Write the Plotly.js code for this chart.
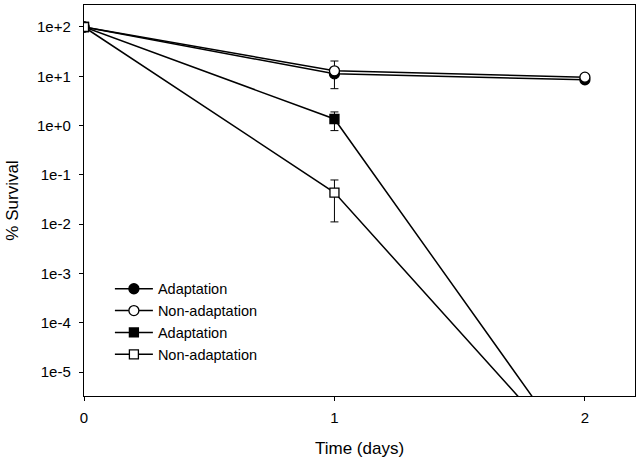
<!DOCTYPE html>
<html>
<head>
<meta charset="utf-8">
<script src="https://cdn.plot.ly/plotly-3.0.1.min.js"></script>
<style>html,body{margin:0;padding:0;background:#fff;}#chart{width:636px;height:459px;}</style>
</head>
<body>
<div id="chart"></div>
<script>
// Data
const days = [0, 1, 2];
const adaptCircle = [100, 11.2, 8.5];
const adaptCircleErrUp = [0, 0, 0];
const adaptCircleErrDown = [0, 5.6, 0];
const nonAdaptCircle = [100, 12.9, 9.6];
const nonAdaptCircleErrUp = [0, 7.5, 0];
const nonAdaptCircleErrDown = [0, 0, 0];
const adaptSquare = [100, 1.36, 1e-7];
const adaptSquareErrUp = [0, 0.53, 0];
const adaptSquareErrDown = [0, 0.57, 0];
const nonAdaptSquare = [100, 0.0437, 1e-7];
const nonAdaptSquareErrUp = [0, 0.035, 0];
const nonAdaptSquareErrDown = [0, 0.0326, 0];
const seriesNames = ["Adaptation", "Non-adaptation", "Adaptation", "Non-adaptation"];
const yTickVals = [100, 10, 1, 0.1, 0.01, 0.001, 1e-4, 1e-5];
const yTickText = ["1e+2", "1e+1", "1e+0", "1e-1", "1e-2", "1e-3", "1e-4", "1e-5"];
const xTickVals = [0, 1, 2];

function errBar(up, down) {
  return {type: 'data', symmetric: false, array: up, arrayminus: down,
          color: '#000', thickness: 1, width: 4, visible: true};
}
function trace(y, name, symbol, filled, up, down) {
  return {
    x: days, y: y, name: name, type: 'scatter', mode: 'lines+markers',
    line: {color: '#000', width: 1.5},
    marker: {symbol: symbol, size: symbol === 'square' ? 9 : 10,
             color: filled ? '#000' : '#fff', line: {color: '#000', width: 1.3}},
    error_y: errBar(up, down)
  };
}
const data = [
  trace(adaptCircle, seriesNames[0], 'circle', true, adaptCircleErrUp, adaptCircleErrDown),
  trace(nonAdaptCircle, seriesNames[1], 'circle', false, nonAdaptCircleErrUp, nonAdaptCircleErrDown),
  trace(adaptSquare, seriesNames[2], 'square', true, adaptSquareErrUp, adaptSquareErrDown),
  trace(nonAdaptSquare, seriesNames[3], 'square', false, nonAdaptSquareErrUp, nonAdaptSquareErrDown)
];
const layout = {
  width: 636, height: 459,
  margin: {l: 84, r: 1, t: 5, b: 63},
  paper_bgcolor: '#fff', plot_bgcolor: '#fff',
  font: {family: 'Liberation Sans, Arial, sans-serif', size: 15, color: '#000'},
  showlegend: true,
  legend: {x: 0.047, y: 0.315, xanchor: 'left', yanchor: 'top', bgcolor: 'rgba(0,0,0,0)',
           font: {size: 14.5}, tracegroupgap: 0, itemwidth: 38, traceorder: 'normal'},
  xaxis: {
    range: [0, 2.2], tickvals: xTickVals, ticktext: xTickVals.map(String),
    ticks: 'outside', ticklen: 4, tickcolor: '#000', tickwidth: 1,
    showline: true, linecolor: '#000', linewidth: 1.2, mirror: true,
    showgrid: false, zeroline: false, ticklabelstandoff: 4,
    title: {text: 'Time (days)', font: {size: 17}, standoff: 16}
  },
  yaxis: {
    type: 'log', range: [-5.487, 2.446], tickvals: yTickVals, ticktext: yTickText,
    ticks: 'outside', ticklen: 4, tickcolor: '#000', tickwidth: 1,
    showline: true, linecolor: '#000', linewidth: 1.2, mirror: true,
    showgrid: false, zeroline: false, ticklabelstandoff: 5,
    title: {text: '% Survival', font: {size: 17}, standoff: 14}
  }
};
Plotly.newPlot('chart', data, layout, {staticPlot: true, displayModeBar: false});
</script>
</body>
</html>
